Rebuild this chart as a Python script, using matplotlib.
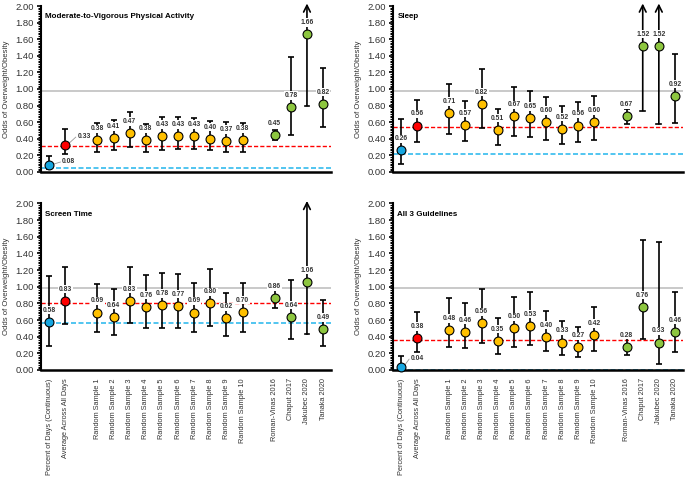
import matplotlib.pyplot as plt
from matplotlib.ticker import MultipleLocator
import numpy as np

plt.rcParams['font.family'] = ['Liberation Sans', 'DejaVu Sans']

labels = ["Percent of Days (Continuous)", "Average Across All Days"] + \
         [f"Random Sample {i}" for i in range(1, 11)] + \
         ["Roman-Vinas 2016", "Chaput 2017", "Jakubec 2020", "Tanaka 2020"]
xpos = [0, 1] + list(range(3, 13)) + list(range(14, 18))

# odds ratios, lower and upper CI (None = runs off the top, drawn as arrow)
mvpa = [0.08, 0.33, 0.38, 0.41, 0.47, 0.38, 0.43, 0.43, 0.43, 0.40, 0.37, 0.38, 0.45, 0.78, 1.66, 0.82]
mvpa_lo = [0.03, 0.22, 0.24, 0.26, 0.30, 0.24, 0.27, 0.28, 0.28, 0.26, 0.24, 0.24, 0.38, 0.44, 0.80, 0.54]
mvpa_hi = [0.19, 0.52, 0.59, 0.63, 0.72, 0.58, 0.66, 0.66, 0.65, 0.62, 0.60, 0.59, 0.51, 1.38, None, 1.25]

sleep = [0.26, 0.56, 0.71, 0.57, 0.82, 0.51, 0.67, 0.65, 0.60, 0.52, 0.56, 0.60, 0.67, 1.52, 1.52, 0.92]
sleep_lo = [0.10, 0.36, 0.46, 0.37, 0.53, 0.33, 0.43, 0.42, 0.38, 0.34, 0.36, 0.39, 0.58, 0.74, 0.58, 0.59]
sleep_hi = [0.64, 0.87, 1.06, 0.86, 1.24, 0.76, 1.02, 0.98, 0.90, 0.80, 0.84, 0.91, 0.76, None, None, 1.42]

screen = [0.58, 0.83, 0.69, 0.64, 0.83, 0.76, 0.78, 0.77, 0.69, 0.80, 0.62, 0.70, 0.86, 0.64, 1.06, 0.49]
screen_lo = [0.29, 0.55, 0.46, 0.42, 0.56, 0.50, 0.51, 0.51, 0.46, 0.53, 0.41, 0.46, 0.75, 0.37, 0.43, 0.29]
screen_hi = [1.13, 1.24, 1.03, 0.97, 1.24, 1.14, 1.17, 1.15, 1.04, 1.21, 0.93, 1.05, 0.99, 1.08, None, 0.84]

all3 = [0.04, 0.38, 0.48, 0.46, 0.56, 0.35, 0.50, 0.53, 0.40, 0.33, 0.27, 0.42, 0.28, 0.76, 0.33, 0.46]
all3_lo = [0.01, 0.22, 0.27, 0.26, 0.33, 0.19, 0.28, 0.30, 0.23, 0.18, 0.15, 0.23, 0.18, 0.37, 0.07, 0.22]
all3_hi = [0.17, 0.70, 0.86, 0.81, 0.97, 0.63, 0.88, 0.94, 0.71, 0.59, 0.52, 0.76, 0.38, 1.56, 1.54, 0.94]

# reference lines as drawn: null (1.0), average-across-days (red), percent of days (blue)
null_line = 0.98
red_lines = [0.31, 0.54, 0.81, 0.36]
blue_lines = [0.05, 0.22, 0.57, 0.0]

titles = ["Moderate-to-Vigorous Physical Activity", "Sleep", "Screen Time", "All 3 Guidelines"]
panels = [(mvpa, mvpa_lo, mvpa_hi), (sleep, sleep_lo, sleep_hi),
          (screen, screen_lo, screen_hi), (all3, all3_lo, all3_hi)]

c_blue, c_red, c_yel, c_grn = "#16A6E0", "#FF0000", "#FFC000", "#8DC63F"
colors = [c_blue, c_red] + [c_yel] * 10 + [c_grn] * 4

# labels drawn off to the side with a leader line: (panel, point index)
side_labels = {(0, 0): (0.8, 0.05), (0, 1): (0.75, 0.10), (3, 0): (0.6, 0.10)}

fig = plt.figure(figsize=(6.85, 4.8), dpi=100)
boxes = [[0.0600, 0.6417, 0.4234, 0.3458], [0.5737, 0.6417, 0.4234, 0.3458],
         [0.0600, 0.2292, 0.4234, 0.3470], [0.5737, 0.2292, 0.4234, 0.3470]]

for k, (vals, lo, hi) in enumerate(panels):
    ax = fig.add_axes(boxes[k])
    ax.set_xlim(-0.5, 17.5)
    ax.set_ylim(0, 2.0)
    ax.axhline(null_line, color="#C0C0C0", lw=1.2, zorder=1)
    ax.axhline(red_lines[k], color=c_red, lw=1.0, ls=(0, (3, 1.5)), zorder=1)
    ax.axhline(blue_lines[k], color="#33BBEE", lw=1.2, ls=(0, (3, 1.5)), zorder=1)

    for i, x in enumerate(xpos):
        v, l, h = vals[i], lo[i], hi[i]
        if h is None:
            ax.annotate("", xy=(x, 2.03), xytext=(x, l), annotation_clip=False,
                        arrowprops=dict(arrowstyle="->", lw=1.2, color="black",
                                        mutation_scale=12, shrinkA=0, shrinkB=0),
                        zorder=2)
            ax.plot([x - 0.15, x + 0.15], [l, l], color="black", lw=1.2, zorder=2)
        else:
            ax.errorbar(x, v, yerr=[[v - l], [h - v]], fmt="none", ecolor="black",
                        elinewidth=1.2, capsize=2.2, capthick=1.2, zorder=2)
        ax.plot(x, v, "o", ms=6.4, mfc=colors[i], mec="black", mew=0.8, zorder=4,
                clip_on=False)
        txt = f"{v:.2f}"
        if (k, i) in side_labels:
            dx, dy = side_labels[(k, i)]
            tx, ty = x + dx, v + dy
            ax.plot([x + 0.2, tx - 0.1], [v + 0.01, ty - 0.01], color="#999999",
                    lw=0.6, zorder=3)
            ax.text(tx, ty, txt, fontsize=4.9, fontweight="bold", ha="left",
                    va="center", color="#333333", zorder=5,
                    bbox=dict(boxstyle="square,pad=0.1", fc="white", ec="none"))
        else:
            ax.text(x, v + 0.14, txt, fontsize=4.9, fontweight="bold", ha="center",
                    va="center", color="#333333", zorder=5,
                    bbox=dict(boxstyle="square,pad=0.1", fc="white", ec="none"))

    ax.text(0.015, 0.935, titles[k], transform=ax.transAxes, fontsize=5.8,
            fontweight="bold", ha="left", va="center")
    for s in ["top", "right"]:
        ax.spines[s].set_visible(False)
    ax.spines["left"].set_linewidth(1.5)
    ax.spines["bottom"].set_linewidth(1.8)
    ax.yaxis.set_minor_locator(MultipleLocator(0.02))
    ax.set_yticks(np.arange(0, 2.01, 0.2))
    ax.set_yticklabels([f"{t:.2f}" for t in np.arange(0, 2.01, 0.2)], fontsize=6.8,
                       color="#333333")
    ax.tick_params(axis="y", which="major", length=3, width=1.2, direction="out",
                   pad=2)
    ax.tick_params(axis="y", which="minor", length=2, width=0.8, direction="out")
    ax.set_ylabel("Odds of Overweight/Obesity", fontsize=5.6, color="#333333",
                  labelpad=4)
    ax.set_xticks(xpos)
    if k >= 2:
        ax.set_xticklabels(labels, rotation=90, fontsize=5.3, color="#333333",
                           va="top")
    else:
        ax.set_xticklabels([])
    ax.tick_params(axis="x", length=0, pad=6)

fig.savefig("out.png", dpi=100)
